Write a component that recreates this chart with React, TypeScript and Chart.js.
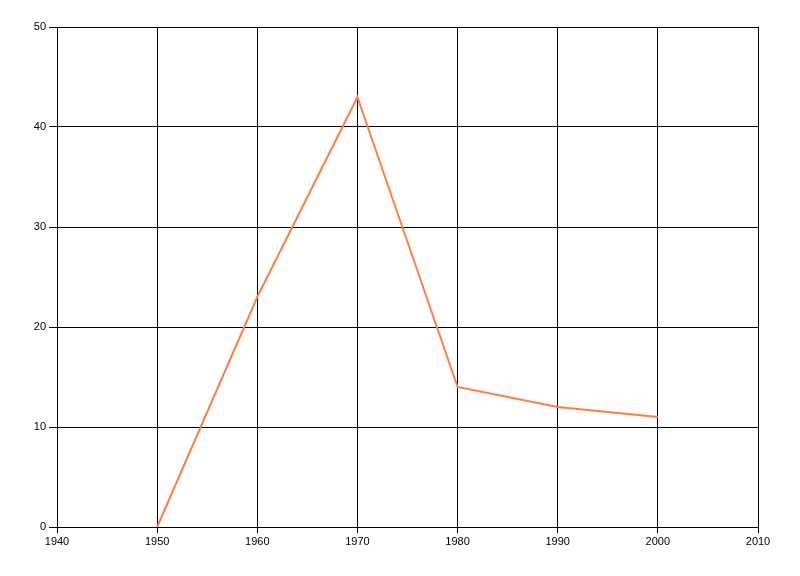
import React, { useEffect, useRef } from "react";
import { Chart, registerables } from "chart.js";

Chart.register(...registerables);

const years = [1950, 1960, 1970, 1980, 1990, 2000];
const values = [0, 23, 43, 14, 12, 11];
const xMin = 1940;
const xMax = 2010;
const yMin = 0;
const yMax = 50;

export default function App() {
  const ref = useRef<HTMLCanvasElement | null>(null);

  useEffect(() => {
    document.body.style.margin = "0";
    const canvas = ref.current;
    if (!canvas) return;
    const chart = new Chart(canvas, {
      type: "line",
      data: {
        datasets: [
          {
            data: years.map((y, i) => ({ x: y, y: values[i] })),
            borderColor: "#FF7F3F",
            backgroundColor: "#FF7F3F",
            borderWidth: 2,
            pointRadius: 0,
            tension: 0,
            fill: false,
          },
        ],
      },
      options: {
        responsive: false,
        animation: false,
        layout: { padding: { top: 27, right: 42, left: 0, bottom: 0 } },
        plugins: { legend: { display: false }, tooltip: { enabled: false } },
        scales: {
          x: {
            type: "linear",
            min: xMin,
            max: xMax,
            ticks: {
              stepSize: 10,
              color: "#000",
              padding: 2,
              maxRotation: 0,
              font: { family: "Liberation Sans", size: 11 },
              callback: (v: any) => String(v),
            },
            grid: { color: "#000", lineWidth: 1, tickLength: 6, drawTicks: true },
            border: { color: "#000", width: 1 },
            afterFit: (s: any) => {
              s.height = 49;
            },
          },
          y: {
            min: yMin,
            max: yMax,
            ticks: {
              stepSize: 10,
              color: "#000",
              padding: 3,
              font: { family: "Liberation Sans", size: 11 },
            },
            grid: { color: "#000", lineWidth: 1, tickLength: 8, drawTicks: true },
            border: { color: "#000", width: 1 },
            afterFit: (s: any) => {
              s.width = 57;
            },
          },
        },
      },
    });
    return () => chart.destroy();
  }, []);

  return (
    <div style={{ position: "absolute", left: 0, top: 0, width: 800, height: 576, background: "#fff" }}>
      <canvas ref={ref} width={800} height={576} style={{ width: 800, height: 576, display: "block" }} />
    </div>
  );
}
